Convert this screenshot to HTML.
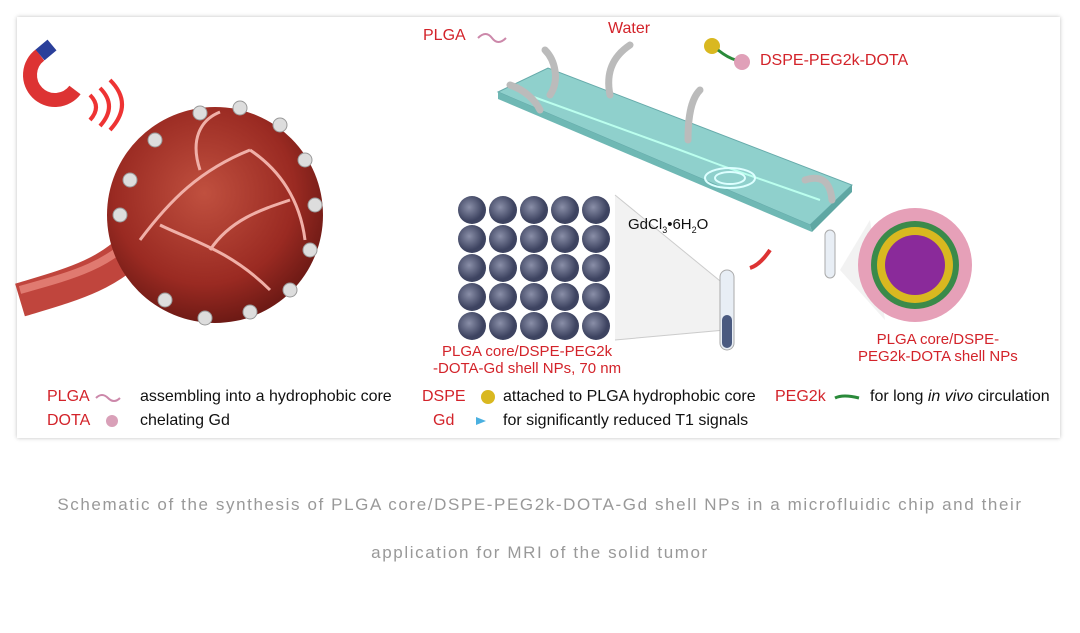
<!DOCTYPE html>
<html><head><meta charset="utf-8"><style>
body{margin:0;width:1080px;height:633px;background:#fff;font-family:"Liberation Sans",sans-serif;position:relative;overflow:hidden}
.panel{position:absolute;left:17px;top:17px;width:1043px;height:421px;background:#fff;box-shadow:0 0 4px rgba(0,0,0,.25)}
.t{position:absolute;font-size:16px;color:#111;white-space:nowrap}
.r{color:#d3232a}
.cap{position:absolute;left:0;width:1080px;text-align:center;color:#999;font-size:17px;letter-spacing:1.6px}
</style></head><body>
<div class="panel"></div>
<svg width="1080" height="633" style="position:absolute;left:0;top:0">
<defs>
<radialGradient id="tum" cx="45%" cy="40%" r="60%"><stop offset="0" stop-color="#c0503f"/><stop offset="0.7" stop-color="#9a2a22"/><stop offset="1" stop-color="#6e1a15"/></radialGradient>
<radialGradient id="np" cx="40%" cy="40%"><stop offset="0" stop-color="#8a8fa8"/><stop offset="1" stop-color="#3d4360"/></radialGradient>
</defs>
<path d="M20,300 C70,285 110,275 140,240" stroke="#c0453d" stroke-width="34" fill="none"/>
<path d="M20,290 C70,276 110,266 138,232" stroke="#e07a70" stroke-width="8" fill="none"/>
<circle cx="215" cy="215" r="108" fill="url(#tum)"/>
<g stroke="#f0b0a8" stroke-width="3" fill="none">
<path d="M140,240 C170,200 200,170 250,150 M200,170 C190,140 200,120 220,112 M160,225 C190,240 230,250 270,290 M250,150 C280,170 300,200 305,240 M210,250 C230,220 260,210 290,200"/>
</g>
<g fill="#ddd" stroke="#999" stroke-width="1">
<circle cx="155" cy="140" r="7"/><circle cx="200" cy="113" r="7"/><circle cx="240" cy="108" r="7"/><circle cx="280" cy="125" r="7"/><circle cx="305" cy="160" r="7"/><circle cx="315" cy="205" r="7"/><circle cx="310" cy="250" r="7"/><circle cx="290" cy="290" r="7"/><circle cx="250" cy="312" r="7"/><circle cx="205" cy="318" r="7"/><circle cx="165" cy="300" r="7"/><circle cx="130" cy="180" r="7"/><circle cx="120" cy="215" r="7"/>
</g>
<path d="M40,55 A25,25 0 1 0 75,90" stroke="#d33" stroke-width="14" fill="none"/>
<path d="M40,55 L52,45" stroke="#2a3f9a" stroke-width="14"/>
<path d="M90,95 q12,12 0,25 M100,88 q18,18 0,38 M110,80 q24,24 0,50" stroke="#e33" stroke-width="4" fill="none"/>
<polygon points="498,92 548,68 852,185 810,225" fill="#8fd0cc" stroke="#6aa" />
<polygon points="810,225 852,185 852,192 812,232" fill="#5fa7a3"/>
<polygon points="498,92 810,225 812,232 498,99" fill="#6fb8b4"/>
<path d="M520,92 L680,150 L720,165 L820,200" stroke="#bfe" stroke-width="2" fill="none"/>
<ellipse cx="730" cy="178" rx="25" ry="10" fill="none" stroke="#dff" stroke-width="2"/>
<ellipse cx="730" cy="178" rx="15" ry="6" fill="none" stroke="#dff" stroke-width="2"/>
<g stroke="#bbb" stroke-width="7" fill="none" stroke-linecap="round">
<path d="M545,50 C555,60 560,80 550,95"/><path d="M630,45 C615,55 605,70 610,95"/><path d="M700,90 C690,100 688,120 688,140"/><path d="M510,85 C525,90 535,100 540,110"/><path d="M805,180 C820,175 830,180 832,200"/>
</g>
<g fill="url(#np)">
<circle cx="472" cy="210" r="14"/><circle cx="503" cy="210" r="14"/><circle cx="534" cy="210" r="14"/><circle cx="565" cy="210" r="14"/><circle cx="596" cy="210" r="14"/>
<circle cx="472" cy="239" r="14"/><circle cx="503" cy="239" r="14"/><circle cx="534" cy="239" r="14"/><circle cx="565" cy="239" r="14"/><circle cx="596" cy="239" r="14"/>
<circle cx="472" cy="268" r="14"/><circle cx="503" cy="268" r="14"/><circle cx="534" cy="268" r="14"/><circle cx="565" cy="268" r="14"/><circle cx="596" cy="268" r="14"/>
<circle cx="472" cy="297" r="14"/><circle cx="503" cy="297" r="14"/><circle cx="534" cy="297" r="14"/><circle cx="565" cy="297" r="14"/><circle cx="596" cy="297" r="14"/>
<circle cx="472" cy="326" r="14"/><circle cx="503" cy="326" r="14"/><circle cx="534" cy="326" r="14"/><circle cx="565" cy="326" r="14"/><circle cx="596" cy="326" r="14"/>
</g>
<path d="M615,195 L725,285 L725,330 L615,340" fill="#f2f2f2" stroke="#ccc"/>
<rect x="720" y="270" width="14" height="80" rx="7" fill="#e8eef5" stroke="#aaa"/>
<rect x="722" y="315" width="10" height="33" rx="5" fill="#4a5a80"/>
<rect x="825" y="230" width="10" height="48" rx="5" fill="#e8eef5" stroke="#aaa"/>
<path d="M770,250 q-10,15 -20,18" stroke="#d33" stroke-width="4" fill="none"/>
<path d="M840,270 L870,220 L885,320 Z" fill="#f2f2f2"/>
<circle cx="915" cy="265" r="57" fill="#e6a0b8"/>
<circle cx="915" cy="265" r="44" fill="#3a8a4a"/>
<circle cx="915" cy="265" r="38" fill="#d9b820"/>
<circle cx="915" cy="265" r="30" fill="#8a2a9a"/>
<path d="M96,398 q6,-6 12,0 t12,0" stroke="#c8a" stroke-width="2" fill="none"/>
<circle cx="112" cy="421" r="6" fill="#d9a0b8"/>
<circle cx="488" cy="397" r="7" fill="#d9b820"/>
<path d="M835,398 q8,-4 24,0" stroke="#2a8a3a" stroke-width="3" fill="none"/>
<polygon points="476,417 486,421 476,425" fill="#4ab0e0"/>
<path d="M478,38 q8,-8 14,0 t14,0" stroke="#c8a" stroke-width="2" fill="none"/>
<circle cx="712" cy="46" r="8" fill="#d9b820"/><path d="M718,50 q10,8 18,10" stroke="#2a8a3a" stroke-width="3" fill="none"/><circle cx="742" cy="62" r="8" fill="#e0a0b8"/>
</svg>
<div class="t r" style="left:423px;top:27px;font-size:16px">PLGA</div>
<div class="t r" style="left:608px;top:20px;font-size:16px">Water</div>
<div class="t r" style="left:760px;top:52px;font-size:16px">DSPE-PEG2k-DOTA</div>
<div class="t" style="left:628px;top:216px;font-size:15px">GdCl<sub style="font-size:9px">3</sub>•6H<sub style="font-size:9px">2</sub>O</div>
<div class="t r" style="left:433px;top:343px;text-align:center;line-height:17px;font-size:15px">PLGA core/DSPE-PEG2k<br>-DOTA-Gd shell NPs, 70 nm</div>
<div class="t r" style="left:858px;top:331px;text-align:center;line-height:17px;font-size:15px">PLGA core/DSPE-<br>PEG2k-DOTA shell NPs</div>
<div class="t r" style="left:47px;top:388px">PLGA</div>
<div class="t" style="left:140px;top:388px">assembling into a hydrophobic core</div>
<div class="t r" style="left:47px;top:412px">DOTA</div>
<div class="t" style="left:140px;top:412px">chelating Gd</div>
<div class="t r" style="left:422px;top:388px">DSPE</div>
<div class="t" style="left:503px;top:388px">attached to PLGA hydrophobic core</div>
<div class="t r" style="left:433px;top:412px">Gd</div>
<div class="t" style="left:503px;top:412px">for significantly reduced T1 signals</div>
<div class="t r" style="left:775px;top:388px">PEG2k</div>
<div class="t" style="left:870px;top:388px">for long <i>in vivo</i> circulation</div>
<div class="cap" style="top:495px">Schematic of the synthesis of PLGA core/DSPE-PEG2k-DOTA-Gd shell NPs in a microfluidic chip and their</div>
<div class="cap" style="top:543px">application for MRI of the solid tumor</div>
</body></html>
